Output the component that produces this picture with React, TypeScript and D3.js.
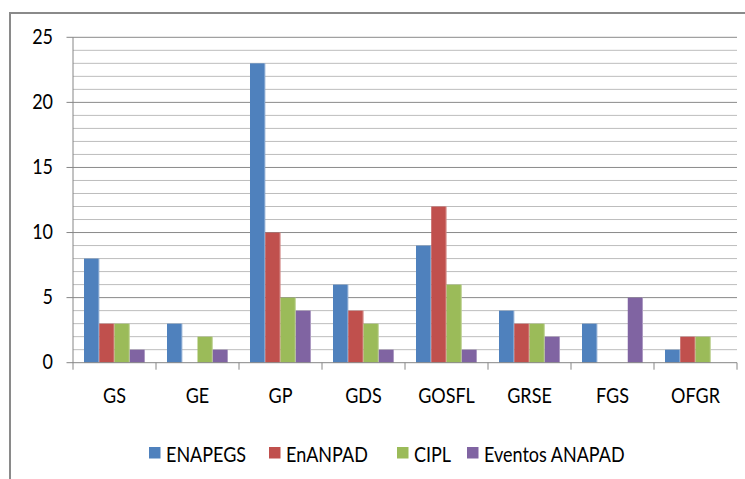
import React from "react";
import * as d3 from "d3";

const categories = ["GS", "GE", "GP", "GDS", "GOSFL", "GRSE", "FGS", "OFGR"];
const seriesNames = ["ENAPEGS", "EnANPAD", "CIPL", "Eventos ANAPAD"];
const enapegs = [8, 3, 23, 6, 9, 4, 3, 1];
const enanpad = [3, 0, 10, 4, 12, 3, 0, 2];
const cipl = [3, 2, 5, 3, 6, 3, 0, 2];
const eventos = [1, 1, 4, 1, 1, 2, 5, 0];
const yTicks = [0, 5, 10, 15, 20, 25];
const colors = ["#4F81BD", "#C0504D", "#9BBB59", "#8064A2"];

const seriesValues = [enapegs, enanpad, cipl, eventos];

const W = 745;
const H = 479;
const plot = { left: 73, right: 737, top: 37.3, bottom: 362.7 };
const FONT = "Lato, 'Open Sans', sans-serif";
const SY = 1.15;

function T(props: { x: number; y: number; anchor?: string; children: React.ReactNode }) {
  return (
    <text
      transform={`translate(${props.x},${props.y}) scale(1,${SY})`}
      textAnchor={props.anchor || "start"}
      fontFamily={FONT}
      fontSize={18}
      fill="#000"
    >
      {props.children}
    </text>
  );
}

export default function App() {
  const x0 = d3.scaleBand<string>().domain(categories).range([plot.left, plot.right]).padding(0);
  const bw = x0.bandwidth();
  const groupW = bw * 0.735;
  const x1 = d3
    .scaleBand<number>()
    .domain(d3.range(seriesNames.length))
    .range([0, groupW])
    .padding(0);
  const y = d3.scaleLinear().domain([0, 25]).range([plot.bottom, plot.top]);
  const minor = d3.range(1, 25);

  const legendX = [149, 269, 397, 467];

  return (
    <div style={{ position: "fixed", left: 0, top: 0 }}>
      <svg width={W} height={H} style={{ display: "block", background: "#fff" }}>
        <rect x={0} y={0} width={W} height={H} fill="#fff" />
        <rect x={10} y={13} width={900} height={600} fill="none" stroke="#8a8a8a" strokeWidth={2} />
        {minor
          .filter((v) => v % 5 !== 0)
          .map((v) => (
            <line key={"m" + v} x1={plot.left} x2={plot.right} y1={y(v)} y2={y(v)} stroke="#bdbdbd" strokeWidth={1} />
          ))}
        {yTicks
          .filter((v) => v !== 0)
          .map((v) => (
            <line key={"g" + v} x1={plot.left} x2={plot.right} y1={y(v)} y2={y(v)} stroke="#8a8a8a" strokeWidth={1} />
          ))}
        {categories.map((c, ci) => (
          <g key={c} transform={`translate(${x0(c)! + (bw - groupW) / 2},0)`}>
            {seriesValues.map((vals, si) =>
              vals[ci] > 0 ? (
                <g key={si}>
                  <rect
                    x={x1(si)!}
                    y={y(vals[ci])}
                    width={x1.bandwidth()}
                    height={y(0) - y(vals[ci])}
                    fill={colors[si]}
                  />
                  <line
                    x1={x1(si)! + x1.bandwidth() - 0.5}
                    x2={x1(si)! + x1.bandwidth() - 0.5}
                    y1={y(vals[ci])}
                    y2={y(0)}
                    stroke="#ffffff"
                    strokeOpacity={0.35}
                    strokeWidth={1}
                  />
                </g>
              ) : null
            )}
          </g>
        ))}
        {/* y axis */}
        <line x1={plot.left} x2={plot.left} y1={plot.top} y2={plot.bottom} stroke="#868686" strokeWidth={1} />
        {yTicks.map((v) => (
          <g key={"t" + v}>
            <line x1={plot.left - 6.5} x2={plot.left} y1={y(v)} y2={y(v)} stroke="#868686" strokeWidth={1} />
            <T x={53} y={y(v) + 6.5} anchor="end">
              {v}
            </T>
          </g>
        ))}
        {/* x axis */}
        <line x1={plot.left} x2={plot.right} y1={plot.bottom} y2={plot.bottom} stroke="#868686" strokeWidth={1} />
        {categories.map((c) => (
          <line key={"xt" + c} x1={x0(c)!} x2={x0(c)!} y1={plot.bottom} y2={plot.bottom + 7} stroke="#868686" strokeWidth={1} />
        ))}
        <line x1={plot.right} x2={plot.right} y1={plot.bottom} y2={plot.bottom + 7} stroke="#868686" strokeWidth={1} />
        {categories.map((c) => (
          <T key={"xl" + c} x={x0(c)! + bw / 2} y={403} anchor="middle">
            {c}
          </T>
        ))}
        {/* legend */}
        {seriesNames.map((s, i) => (
          <g key={s}>
            <rect x={legendX[i]} y={447} width={11.5} height={11.5} fill={colors[i]} />
            <T x={legendX[i] + 17} y={461.5}>
              {s}
            </T>
          </g>
        ))}
      </svg>
    </div>
  );
}
